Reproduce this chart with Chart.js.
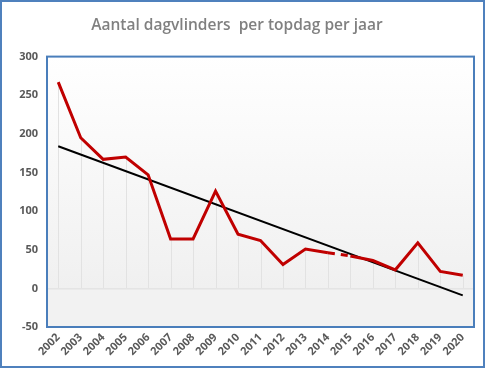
<!DOCTYPE html>
<html><head><meta charset="utf-8">
<script src="https://cdn.jsdelivr.net/npm/chart.js@4/dist/chart.umd.min.js"></script>
<style>html,body{margin:0;padding:0;background:#fff}#w{width:485px;height:368px}</style>
</head><body><div id="w"><canvas id="c"></canvas></div>
<script>
const years = ['2002','2003','2004','2005','2006','2007','2008','2009','2010','2011','2012','2013','2014','2015','2016','2017','2018','2019','2020'];
const butterflies = [267,195,167,170,147,64,64,126,70,62,31,51,46,42,36,24,59,22,17];
const trend = [184,null,null,null,null,null,null,null,null,null,null,null,null,null,null,null,null,null,-9];
const yTicks = {min:-50, max:300, step:50};
const titleText = 'Aantal dagvlinders  per topdag per jaar';

const bgPlugin = {
  id:'bg',
  beforeDatasetsDraw(chart){
    const {ctx, chartArea:a, scales:{x,y}} = chart;
    const y0 = y.getPixelForValue(0);
    ctx.save();
    const g = ctx.createLinearGradient(0,a.top,0,y0);
    g.addColorStop(0,'#ffffff'); g.addColorStop(1,'#f0f0f0');
    ctx.fillStyle = g; ctx.fillRect(a.left,a.top,a.right-a.left,y0-a.top);
    ctx.fillStyle = '#f2f2f2'; ctx.fillRect(a.left,y0,a.right-a.left,a.bottom-y0);
    ctx.strokeStyle = '#dcdcdc'; ctx.lineWidth = 1;
    ctx.beginPath(); ctx.moveTo(a.left,y0+0.5); ctx.lineTo(a.right,y0+0.5); ctx.stroke();
    ctx.strokeStyle = '#e2e2e2';
    for(let i=0;i<years.length;i++){
      const px = Math.round(x.getPixelForValue(i))+0.5;
      const top = y.getPixelForValue(Math.max(butterflies[i], 0));
      ctx.beginPath(); ctx.moveTo(px,top); ctx.lineTo(px,y0); ctx.stroke();
    }
    ctx.restore();
  },
  afterDraw(chart){
    const {ctx, chartArea:a} = chart;
    ctx.save();
    ctx.strokeStyle = '#4a7ebb'; ctx.lineWidth = 2;
    ctx.strokeRect(a.left,a.top,a.right-a.left,a.bottom-a.top);
    ctx.strokeStyle = '#4f81bd'; ctx.lineWidth = 2;
    ctx.strokeRect(1,1,chart.width-2,chart.height-2);
    ctx.restore();
  }
};

new Chart(document.getElementById('c'), {
  type:'line',
  data:{labels:years, datasets:[
    {data:butterflies, borderColor:'#c00000', borderWidth:3, pointRadius:0, tension:0,
     segment:{borderDash: c => c.p0DataIndex===12 ? [7,6] : undefined}},
    {data:trend, borderColor:'#000000', borderWidth:2, pointRadius:0, spanGaps:true}
  ]},
  options:{
    responsive:true, maintainAspectRatio:false, animation:false,
    layout:{padding:{left:0,right:11,top:0,bottom:4}},
    plugins:{legend:{display:false}, tooltip:{enabled:false},
      title:{display:true, text:titleText, color:'#808080',
        font:{family:'Open Sans', size:15.5, weight:'600'}, padding:{top:16,bottom:22}}},
    scales:{
      x:{offset:true, grid:{display:false, drawTicks:false}, border:{display:false},
        ticks:{color:'#595959', font:{family:'Open Sans', size:11, weight:'bold'}, maxRotation:45, minRotation:45, padding:4, autoSkip:false},
        afterFit(s){ s.height = 37; }},
      y:{min:yTicks.min, max:yTicks.max, grid:{display:false, drawTicks:false}, border:{display:false},
        ticks:{stepSize:yTicks.step, color:'#595959', font:{family:'Open Sans', size:11, weight:'bold'}, padding:9},
        afterFit(s){ s.width = 47; }}
    }
  },
  plugins:[bgPlugin]
});
</script></body></html>
